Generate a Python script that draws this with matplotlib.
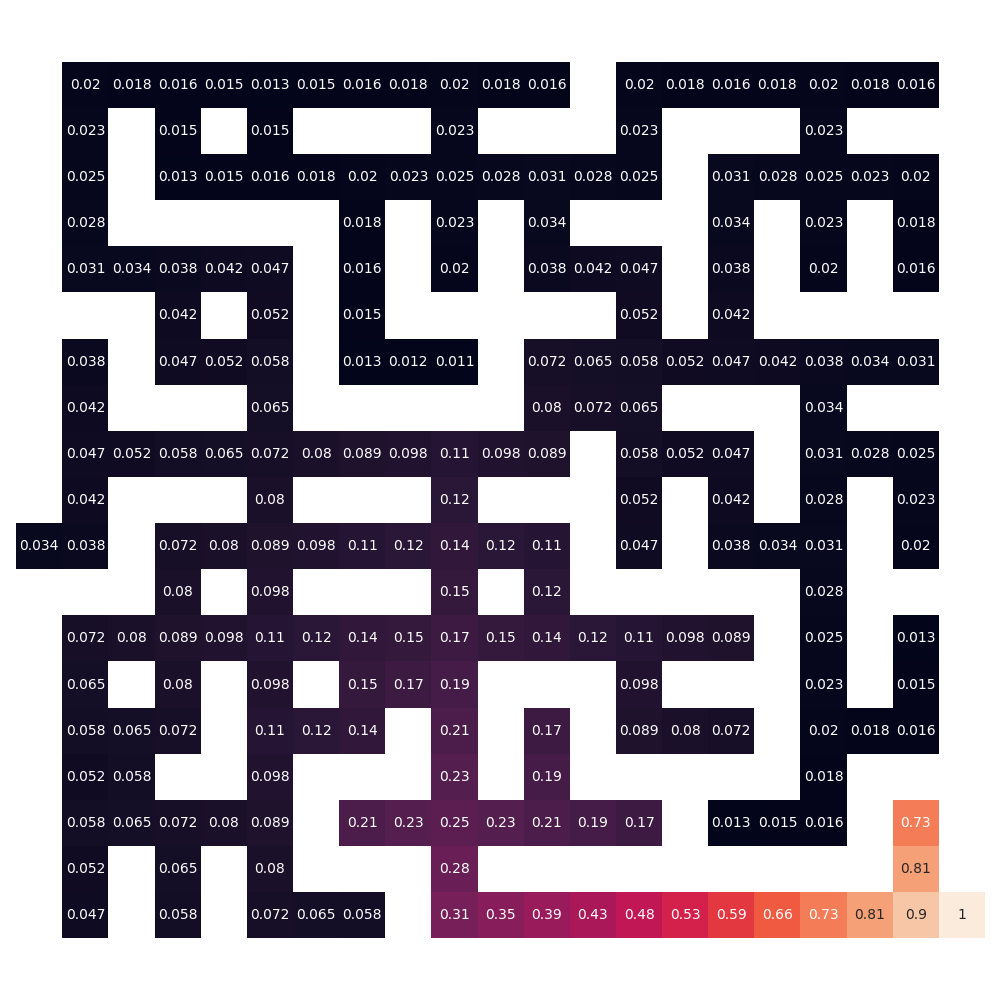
import numpy as np
import matplotlib
matplotlib.use("Agg")
import matplotlib.pyplot as plt
import seaborn as sns

n = np.nan

# maze value grid, nan = wall
row00 = [n, 0.02, 0.018, 0.016, 0.015, 0.013, 0.015, 0.016, 0.018, 0.02, 0.018, 0.016, n, 0.02, 0.018, 0.016, 0.018, 0.02, 0.018, 0.016, n]
row01 = [n, 0.023, n, 0.015, n, 0.015, n, n, n, 0.023, n, n, n, 0.023, n, n, n, 0.023, n, n, n]
row02 = [n, 0.025, n, 0.013, 0.015, 0.016, 0.018, 0.02, 0.023, 0.025, 0.028, 0.031, 0.028, 0.025, n, 0.031, 0.028, 0.025, 0.023, 0.02, n]
row03 = [n, 0.028, n, n, n, n, n, 0.018, n, 0.023, n, 0.034, n, n, n, 0.034, n, 0.023, n, 0.018, n]
row04 = [n, 0.031, 0.034, 0.038, 0.042, 0.047, n, 0.016, n, 0.02, n, 0.038, 0.042, 0.047, n, 0.038, n, 0.02, n, 0.016, n]
row05 = [n, n, n, 0.042, n, 0.052, n, 0.015, n, n, n, n, n, 0.052, n, 0.042, n, n, n, n, n]
row06 = [n, 0.038, n, 0.047, 0.052, 0.058, n, 0.013, 0.012, 0.011, n, 0.072, 0.065, 0.058, 0.052, 0.047, 0.042, 0.038, 0.034, 0.031, n]
row07 = [n, 0.042, n, n, n, 0.065, n, n, n, n, n, 0.08, 0.072, 0.065, n, n, n, 0.034, n, n, n]
row08 = [n, 0.047, 0.052, 0.058, 0.065, 0.072, 0.08, 0.089, 0.098, 0.11, 0.098, 0.089, n, 0.058, 0.052, 0.047, n, 0.031, 0.028, 0.025, n]
row09 = [n, 0.042, n, n, n, 0.08, n, n, n, 0.12, n, n, n, 0.052, n, 0.042, n, 0.028, n, 0.023, n]
row10 = [0.034, 0.038, n, 0.072, 0.08, 0.089, 0.098, 0.11, 0.12, 0.14, 0.12, 0.11, n, 0.047, n, 0.038, 0.034, 0.031, n, 0.02, n]
row11 = [n, n, n, 0.08, n, 0.098, n, n, n, 0.15, n, 0.12, n, n, n, n, n, 0.028, n, n, n]
row12 = [n, 0.072, 0.08, 0.089, 0.098, 0.11, 0.12, 0.14, 0.15, 0.17, 0.15, 0.14, 0.12, 0.11, 0.098, 0.089, n, 0.025, n, 0.013, n]
row13 = [n, 0.065, n, 0.08, n, 0.098, n, 0.15, 0.17, 0.19, n, n, n, 0.098, n, n, n, 0.023, n, 0.015, n]
row14 = [n, 0.058, 0.065, 0.072, n, 0.11, 0.12, 0.14, n, 0.21, n, 0.17, n, 0.089, 0.08, 0.072, n, 0.02, 0.018, 0.016, n]
row15 = [n, 0.052, 0.058, n, n, 0.098, n, n, n, 0.23, n, 0.19, n, n, n, n, n, 0.018, n, n, n]
row16 = [n, 0.058, 0.065, 0.072, 0.08, 0.089, n, 0.21, 0.23, 0.25, 0.23, 0.21, 0.19, 0.17, n, 0.013, 0.015, 0.016, n, 0.73, n]
row17 = [n, 0.052, n, 0.065, n, 0.08, n, n, n, 0.28, n, n, n, n, n, n, n, n, n, 0.81, n]
row18 = [n, 0.047, n, 0.058, n, 0.072, 0.065, 0.058, n, 0.31, 0.35, 0.39, 0.43, 0.48, 0.53, 0.59, 0.66, 0.73, 0.81, 0.9, 1]

grid = np.array([row00, row01, row02, row03, row04, row05, row06, row07, row08, row09,
                 row10, row11, row12, row13, row14, row15, row16, row17, row18])

fig, ax = plt.subplots(figsize=(10, 10))
sns.heatmap(grid, annot=True, fmt=".2g", cbar=False, square=True,
            xticklabels=False, yticklabels=False, ax=ax)
plt.tight_layout()
plt.savefig("out.png", dpi=100)
